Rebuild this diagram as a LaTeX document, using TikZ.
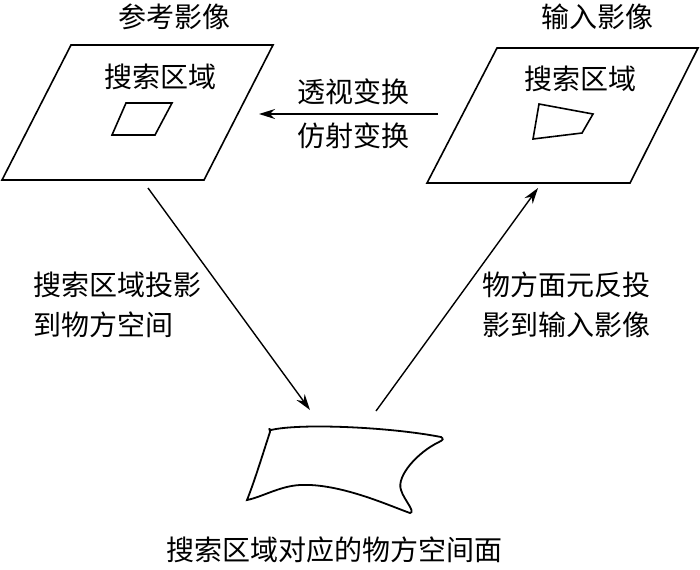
\documentclass[tikz,border=0pt]{standalone}
\usepackage{fontspec}
\newfontfamily\cjk{Noto Sans CJK SC}
\usetikzlibrary{arrows.meta}
\begin{document}
\begin{tikzpicture}[x=0.5pt,y=-0.5pt,
  outline/.style={line width=0.8pt,line join=miter},
  conn/.style={line width=0.7pt,-{Stealth[length=8pt,width=5pt]}},
  lbl/.style={font=\cjk\fontsize{14pt}{17pt}\selectfont,inner sep=0pt},
  mlbl/.style={lbl,align=left}]
\useasboundingbox (0,0) rectangle (700,569);
% left (reference) image
\draw[outline] (71,45) coordinate (L1) -- (273,45) coordinate (L2) -- (204,180) coordinate (L3) -- (2,180) coordinate (L4) -- cycle;
\draw[outline] (126,103) -- (172,103) -- (155,135) -- (112,135) -- cycle;
\node[lbl] (reftitle) at (174,17) {参考影像};
\node[lbl] (refsearch) at (160,77) {搜索区域};
% right (input) image
\draw[outline] (497,48) coordinate (R1) -- (698,48) coordinate (R2) -- (630,183) coordinate (R3) -- (427,183) coordinate (R4) -- cycle;
\draw[outline] (539,104) -- (593,114) -- (582,133) -- (533,139) -- cycle;
\node[lbl] (intitle) at (597,17) {输入影像};
\node[lbl] (insearch) at (580,79) {搜索区域};
% transform arrow
\coordinate (hs) at (438,114);
\coordinate (he) at (259,114);
\draw[conn] (hs) -- (he);
\node[lbl] (t1) at (353,92) {透视变换};
\node[lbl] (t2) at (353,136) {仿射变换};
% object surface
\draw[outline,line width=0.9pt] (271,430)
  .. controls (300,423) and (390,427) .. (441,437)
  .. controls (444,439) and (443,440) .. (439,442)
  .. controls (418,452) and (396,476) .. (401,490)
  .. controls (404,500) and (416,512) .. (410,513)
  .. controls (390,506) and (340,483) .. (300,485)
  .. controls (280,486) and (262,497) .. (247,500)
  .. controls (255,480) and (264,450) .. (270,432)
  .. controls (270,429) and (268,428) .. (271,430) -- cycle;
\node[lbl] (surf) at (334,550) {搜索区域对应的物方空间面};
% projection arrows
\coordinate (p1s) at (148,188);
\coordinate (p1e) at (310,410);
\draw[conn] (p1s) -- (p1e);
\coordinate (p2s) at (376,411);
\coordinate (p2e) at (538,188);
\draw[conn] (p2s) -- (p2e);
\node[mlbl,anchor=west] (pl) at (33,305) {搜索区域投影\\[3pt]到物方空间};
\node[mlbl,anchor=west] (pr) at (482,305) {物方面元反投\\[3pt]影到输入影像};
\end{tikzpicture}
\end{document}
